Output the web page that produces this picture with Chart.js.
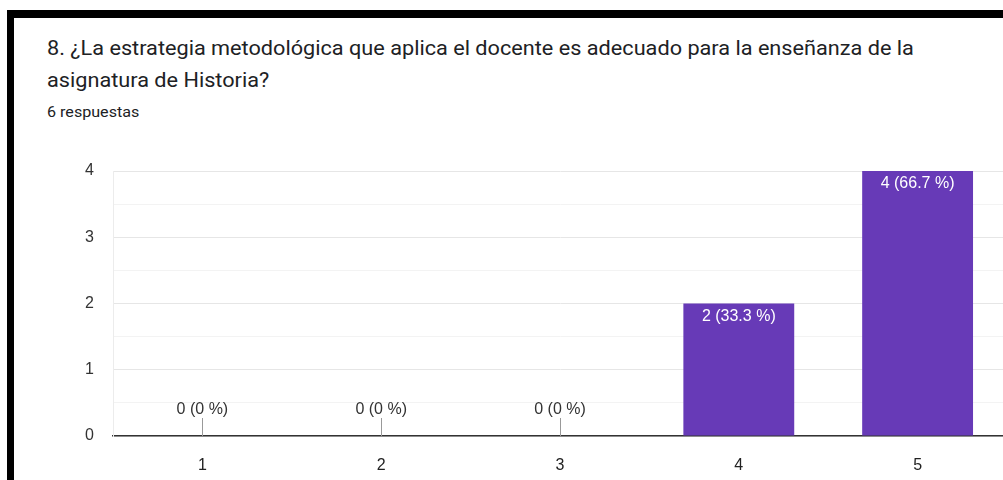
<!DOCTYPE html>
<html>
<head>
<meta charset="utf-8">
<script src="https://cdn.jsdelivr.net/npm/chart.js@4.4.0/dist/chart.umd.min.js"></script>
<style>
    html, body {
        margin: 0;
        padding: 0;
        width: 1003px;
        height: 480px;
        overflow: hidden;
        background: #fff;
    }
    .frame {
        position: absolute;
        left: 7px;
        top: 10px;
        width: 1010px;
        height: 480px;
        border-top: 8px solid #000;
        border-left: 7px solid #000;
        box-sizing: border-box;
    }
    .title {
        position: absolute;
        left: 47px;
        top: 32px;
        font-family: Roboto, "Noto Sans", sans-serif;
        font-size: 20px;
        line-height: 32px;
        color: #202124;
        white-space: nowrap;
        transform: scaleX(1.084);
        transform-origin: left top;
    }
    .count {
        position: absolute;
        left: 47px;
        top: 104px;
        font-family: Roboto, "Noto Sans", sans-serif;
        font-size: 14px;
        color: #202124;
        white-space: nowrap;
        transform: scaleX(1.15);
        transform-origin: left top;
    }
    #chart {
        position: absolute;
        left: 0;
        top: 0;
    }
</style>
</head>
<body>
<div class="frame"></div>
<div class="title">8. ¿La estrategia metodológica que aplica el docente es adecuado para la enseñanza de la<br>asignatura de Historia?</div>
<div class="count">6 respuestas</div>
<canvas id="chart" width="1007" height="480"></canvas>

<script>
// Data
const categories = ['1', '2', '3', '4', '5'];
const counts = [0, 0, 0, 2, 4];
const percentLabels = ['0 %', '0 %', '0 %', '33.3 %', '66.7 %'];
const yTicks = [0, 1, 2, 3, 4];

const BAR_COLOR = '#673ab7';
const FONT = '"Liberation Sans", Arial, sans-serif';

/**
 * Labels above zero bars and inside non-zero bars
 */
const valueLabels = {
    id: 'valueLabels',
    afterDatasetsDraw(chart) {
        const ctx = chart.ctx;
        const meta = chart.getDatasetMeta(0);
        const base = chart.scales.y.getPixelForValue(0);
        ctx.save();
        ctx.font = '16px ' + FONT;
        ctx.textAlign = 'center';
        ctx.textBaseline = 'middle';
        meta.data.forEach((bar, i) => {
            const text = counts[i] + ' (' + percentLabels[i] + ')';
            if (counts[i] === 0) {
                // little stub for empty answers
                ctx.strokeStyle = '#999';
                ctx.lineWidth = 1;
                ctx.beginPath();
                ctx.moveTo(Math.round(bar.x) + 0.5, base - 18);
                ctx.lineTo(Math.round(bar.x) + 0.5, base);
                ctx.stroke();
                ctx.fillStyle = '#333';
                ctx.fillText(text, bar.x, base - 26);
            } else {
                ctx.fillStyle = '#fff';
                ctx.fillText(text, bar.x, bar.y + 13);
            }
        });
        ctx.restore();
    }
};

const ctx = document.getElementById('chart').getContext('2d');
new Chart(ctx, {
    type: 'bar',
    data: {
        labels: categories,
        datasets: [{
            data: counts,
            backgroundColor: BAR_COLOR,
            barPercentage: 0.62,
            categoryPercentage: 1.0
        }]
    },
    options: {
        responsive: false,
        animation: false,
        layout: {
            padding: { top: 171, left: 0, right: 0, bottom: 0 }
        },
        plugins: {
            legend: { display: false },
            tooltip: { enabled: false }
        },
        scales: {
            x: {
                grid: { display: false },
                border: { color: '#333', width: 1.5 },
                ticks: {
                    color: '#222',
                    padding: 12,
                    font: { family: FONT, size: 16 }
                },
                afterFit: scale => { scale.height = 44; }
            },
            y: {
                min: yTicks[0],
                max: yTicks[yTicks.length - 1],
                grid: {
                    drawTicks: false,
                    color: c => Number.isInteger(c.tick.value) ? '#e6e6e6' : '#f3f3f3'
                },
                border: { color: '#ececec' },
                ticks: {
                    stepSize: 0.5,
                    color: '#333',
                    padding: 19,
                    font: { family: FONT, size: 16 },
                    callback: v => yTicks.includes(v) ? v : ''
                },
                afterFit: scale => { scale.width = 113; }
            }
        }
    },
    plugins: [valueLabels]
});
</script>
</body>
</html>
